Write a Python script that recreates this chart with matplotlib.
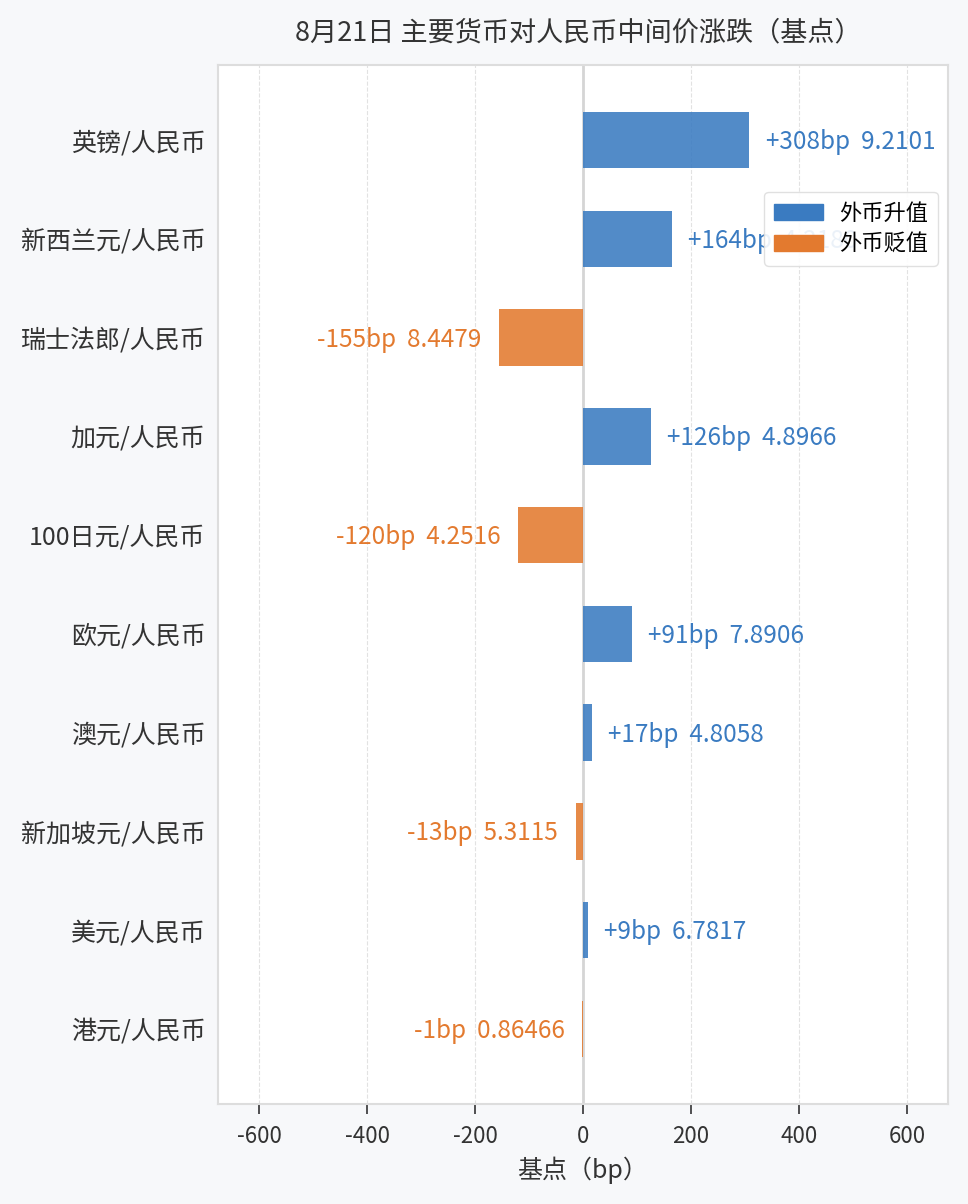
import matplotlib
matplotlib.use("Agg")
import matplotlib.pyplot as plt
from matplotlib.patches import Patch

plt.rcParams['font.family'] = ['Noto Sans CJK SC', 'DejaVu Sans']
plt.rcParams['axes.unicode_minus'] = False

pairs = ['英镑/人民币', '新西兰元/人民币', '瑞士法郎/人民币', '加元/人民币', '100日元/人民币',
         '欧元/人民币', '澳元/人民币', '新加坡元/人民币', '美元/人民币', '港元/人民币']
change_bp = [308, 164, -155, 126, -120, 91, 17, -13, 9, -1]
mid_rate = ['9.2101', '4.2180', '8.4479', '4.8966', '4.2516',
            '7.8906', '4.8058', '5.3115', '6.7817', '0.86466']

up_color = '#3a7bc1'
down_color = '#e37a2f'
text_dark = '#333333'

fig = plt.figure(figsize=(9.68, 12.04), dpi=100, facecolor='#f7f8fa')
ax = fig.add_axes([218 / 968, 1 - 1104 / 1204, 730 / 968, 1039 / 1204])
ax.set_facecolor('white')

y = list(range(len(pairs)))
colors = [up_color if v > 0 else down_color for v in change_bp]
ax.barh(y, change_bp, height=0.57, color=colors, alpha=0.88, zorder=3)

# 数值标签：涨跌基点 + 中间价
for i, (v, r) in enumerate(zip(change_bp, mid_rate)):
    label = f'{v:+d}bp  {r}'
    if v > 0:
        ax.text(v + 30, i + 0.02, label, va='center', ha='left', color=up_color,
                fontsize=17.5, zorder=4)
    else:
        ax.text(v - 33, i + 0.02, label, va='center', ha='right', color=down_color,
                fontsize=17.5, zorder=4)

ax.axvline(0, color='#d5d5d5', lw=2, zorder=2)
ax.set_xlim(-676, 676)
ax.set_ylim(len(pairs) - 0.24, -0.76)
ax.set_xticks([-600, -400, -200, 0, 200, 400, 600])
ax.set_yticks(y)
ax.set_yticklabels(pairs, fontsize=18, color=text_dark)
ax.tick_params(axis='y', length=0, pad=9)
ax.tick_params(axis='x', length=7, width=1.2, color='#333333', labelsize=16,
               labelcolor=text_dark, pad=8)
ax.grid(axis='x', linestyle='--', color='#e2e2e2', lw=0.8, zorder=0)
for s in ax.spines.values():
    s.set_color('#dddddd')
    s.set_linewidth(1.5)

ax.set_xlabel('基点（bp）', fontsize=18, color=text_dark, labelpad=6)
fig.text(578 / 968, 1 - 33 / 1204, '8月21日 主要货币对人民币中间价涨跌（基点）',
         ha='center', va='center', fontsize=19.5, color=text_dark)

handles = [Patch(color=up_color, label='外币升值'), Patch(color=down_color, label='外币贬值')]
leg = ax.legend(handles=handles, loc='upper right', bbox_to_anchor=(0.986, 0.878),
                borderaxespad=0, fontsize=16, framealpha=0.9, edgecolor='#dddddd',
                handlelength=2.2, labelspacing=0.35, borderpad=0.45, handletextpad=0.7)
leg.set_zorder(5)

fig.savefig('out.png', dpi=100, facecolor=fig.get_facecolor())
